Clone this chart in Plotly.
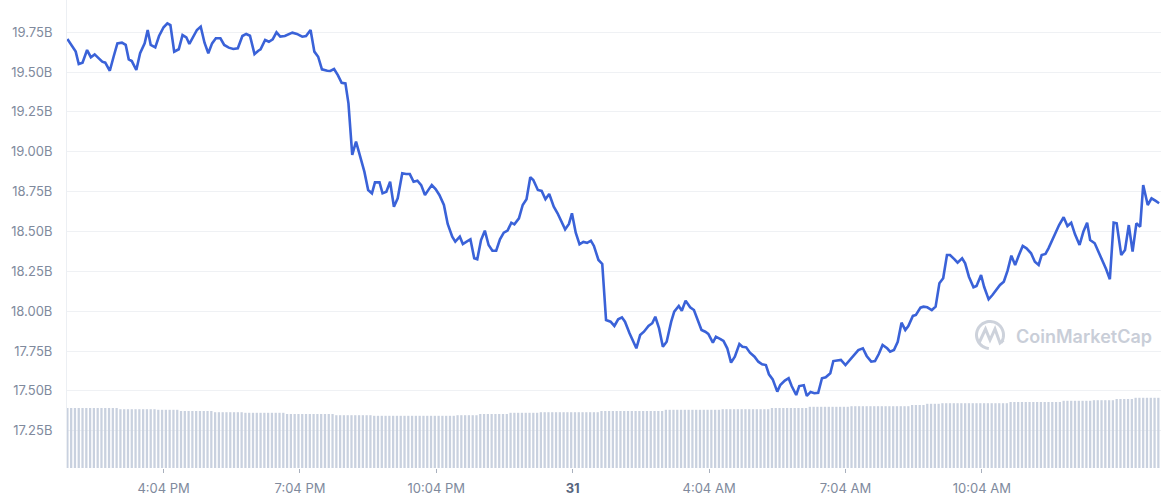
import plotly.graph_objects as go
import pandas as pd
import numpy as np

# ---------------- data ----------------
start_time = "2022-05-30 13:57"

# minutes after start_time for each market-cap sample
minutes = [0, 8, 11, 15, 20, 26, 31, 36, 41, 46, 50, 56, 61, 66, 72, 77, 81, 85, 91, 96,
           102, 106, 110, 116, 121, 127, 132, 136, 141, 147, 152, 157, 161, 167, 171, 176, 181, 186, 191, 196,
           202, 207, 213, 219, 225, 231, 236, 241, 247, 252,
           255, 261, 266, 271, 276, 281, 287, 297, 303, 310, 315, 321, 326, 331, 336, 343, 347, 352, 357, 362,
           367, 371, 376, 381, 387, 392, 397, 402, 406, 412, 416, 421, 426, 431, 436, 442, 447, 452, 457, 462,
           467, 472, 477, 481, 486, 491, 497, 502, 508, 512,
           518, 522, 527, 532, 537, 541, 546, 551, 556, 561, 566, 571, 576, 581, 586, 590, 596, 601, 606, 611,
           615, 621, 626, 631, 636, 642, 647, 652, 657, 662, 666, 671, 676, 681, 686, 691, 695, 701, 706, 711,
           717, 722, 727, 732, 736, 742, 747, 751, 756, 761, 767,
           772, 776, 781, 786, 791, 797, 801, 807, 811, 816, 822, 827, 832, 837, 842, 846, 852, 856, 862, 866,
           871, 876, 881, 887, 891, 896, 901, 907, 912, 917, 922, 926, 931, 937, 941, 947, 952, 956, 962, 966,
           972, 976, 981, 986, 991, 996, 1001, 1007, 1011, 1017, 1021, 1027,
           1031, 1038, 1044, 1050, 1055, 1061, 1066, 1071, 1076, 1082, 1086, 1091, 1096, 1101, 1106, 1110, 1116,
           1120, 1126, 1130, 1135, 1141, 1146, 1151, 1156, 1161, 1165, 1171, 1175, 1181, 1185, 1190, 1196, 1200,
           1206, 1210, 1216, 1221, 1227, 1231, 1236, 1241, 1246, 1251, 1256, 1261, 1266, 1272, 1277,
           1282, 1286, 1291, 1295, 1300, 1305, 1309, 1315, 1320, 1325, 1330, 1336, 1341, 1346, 1350, 1356, 1361,
           1366, 1371, 1376, 1381, 1385, 1391, 1396, 1401, 1406, 1411, 1416, 1420, 1426, 1431, 1436, 1441]

# market cap, billions USD
market_cap_b = [19.707, 19.655, 19.628, 19.550, 19.559, 19.638, 19.593, 19.611, 19.590, 19.565,
                19.559, 19.508, 19.596, 19.680, 19.684, 19.670, 19.580, 19.569, 19.513, 19.618,
                19.680, 19.764, 19.670, 19.655, 19.726, 19.781, 19.806, 19.795, 19.628, 19.643,
                19.732, 19.718, 19.676, 19.726, 19.764, 19.785, 19.684, 19.618, 19.680, 19.712,
                19.712, 19.670, 19.653, 19.645, 19.649, 19.726, 19.739, 19.728, 19.613, 19.634,
                19.643, 19.701, 19.690, 19.705, 19.749, 19.722, 19.726, 19.747, 19.739, 19.722,
                19.726, 19.764, 19.628, 19.596, 19.517, 19.508, 19.507, 19.519, 19.481, 19.433,
                19.429, 19.304, 18.980, 19.063, 18.969, 18.875, 18.760, 18.739, 18.808, 18.808,
                18.739, 18.749, 18.812, 18.655, 18.708, 18.865, 18.860, 18.860, 18.812, 18.818,
                18.791, 18.729, 18.764, 18.791, 18.766, 18.729, 18.666, 18.547, 18.467, 18.436,
                18.467, 18.421, 18.436, 18.451, 18.332, 18.325, 18.446, 18.505, 18.415, 18.379,
                18.379, 18.451, 18.492, 18.505, 18.555, 18.545, 18.582, 18.666, 18.702, 18.840,
                18.823, 18.760, 18.754, 18.702, 18.735, 18.655, 18.614, 18.561, 18.513, 18.547,
                18.614, 18.492, 18.419, 18.434, 18.429, 18.442, 18.409, 18.321, 18.296, 17.944,
                17.934, 17.907, 17.949, 17.961, 17.934, 17.861, 17.802, 17.767, 17.850, 17.871, 17.907,
                17.924, 17.965, 17.892, 17.777, 17.808, 17.934, 17.997, 18.032, 18.003, 18.066,
                18.024, 18.007, 17.949, 17.882, 17.871, 17.857, 17.802, 17.840, 17.825, 17.813,
                17.767, 17.677, 17.714, 17.794, 17.777, 17.773, 17.739, 17.714, 17.683, 17.667,
                17.662, 17.604, 17.572, 17.495, 17.537, 17.564, 17.579, 17.530, 17.474, 17.530,
                17.535, 17.468, 17.493, 17.485, 17.488, 17.579, 17.585, 17.610, 17.687, 17.694,
                17.694, 17.662,
                17.683, 17.725, 17.756, 17.767, 17.719, 17.683, 17.687, 17.731, 17.788, 17.767,
                17.746, 17.756, 17.808, 17.928, 17.882, 17.907, 17.970, 17.976, 18.022, 18.028,
                18.024, 18.007, 18.028, 18.175, 18.206, 18.352, 18.352, 18.325, 18.304, 18.332,
                18.300, 18.216, 18.150, 18.158, 18.227, 18.153, 18.074, 18.101, 18.137, 18.164,
                18.185, 18.254, 18.348, 18.290, 18.352, 18.409, 18.394, 18.363, 18.310,
                18.290, 18.352, 18.359, 18.394, 18.446, 18.509, 18.540, 18.589, 18.534, 18.555,
                18.482, 18.415, 18.498, 18.555, 18.446, 18.426, 18.373, 18.321, 18.264, 18.200,
                18.555, 18.551, 18.352, 18.384, 18.540, 18.373, 18.551, 18.530, 18.791, 18.666,
                18.708, 18.693, 18.677]

# volume bars, one every 5 minutes from start_time (billions, own scale)
volume_b = [1.00, 1.00, 1.00, 1.00, 1.00, 1.00, 1.00, 1.00, 1.00, 1.00, 1.00, 1.00, 1.00, 1.00,
            0.98, 0.98, 0.98, 0.98, 0.98, 0.98, 0.98, 0.98, 0.98, 0.98,
            0.97, 0.97, 0.97, 0.97, 0.97, 0.97,
            0.95, 0.95, 0.95, 0.95, 0.95, 0.95, 0.95, 0.95, 0.95,
            0.93, 0.93, 0.93, 0.93, 0.93, 0.93, 0.93, 0.93,
            0.92, 0.92, 0.92, 0.92, 0.92, 0.92, 0.92, 0.92, 0.92, 0.92, 0.92,
            0.90, 0.90, 0.90, 0.90, 0.90, 0.90, 0.90, 0.90, 0.90, 0.90, 0.90, 0.90, 0.90,
            0.88, 0.88, 0.88, 0.88, 0.88, 0.88, 0.88, 0.88, 0.88, 0.88,
            0.87, 0.87, 0.87, 0.87, 0.87, 0.87, 0.87, 0.87, 0.87, 0.87, 0.87,
            0.87, 0.87, 0.87, 0.87, 0.87, 0.87, 0.87, 0.87, 0.87, 0.87, 0.87,
            0.88, 0.88, 0.88, 0.88, 0.88, 0.88,
            0.90, 0.90, 0.90, 0.90, 0.90, 0.90, 0.90, 0.90,
            0.92, 0.92, 0.92, 0.92, 0.92, 0.92, 0.92, 0.92,
            0.93, 0.93, 0.93, 0.93, 0.93, 0.93, 0.93, 0.93, 0.93, 0.93, 0.93, 0.93, 0.93, 0.93, 0.93, 0.93,
            0.95, 0.95, 0.95, 0.95, 0.95, 0.95, 0.95, 0.95, 0.95, 0.95, 0.95, 0.95, 0.95, 0.95, 0.95, 0.95, 0.95,
            0.97, 0.97, 0.97, 0.97, 0.97, 0.97, 0.97, 0.97, 0.97, 0.97, 0.97, 0.97, 0.97, 0.97, 0.97,
            0.98, 0.98, 0.98, 0.98, 0.98, 0.98, 0.98, 0.98, 0.98, 0.98, 0.98, 0.98, 0.98,
            1.00, 1.00, 1.00, 1.00, 1.00, 1.00, 1.00, 1.00, 1.00, 1.00,
            1.02, 1.02, 1.02, 1.02, 1.02, 1.02, 1.02, 1.02, 1.02, 1.02, 1.02,
            1.03, 1.03, 1.03, 1.03, 1.03, 1.03, 1.03, 1.03, 1.03, 1.03, 1.03, 1.03, 1.03, 1.03, 1.03, 1.03,
            1.05, 1.05, 1.05, 1.05,
            1.07, 1.07, 1.07, 1.07,
            1.08, 1.08, 1.08, 1.08, 1.08, 1.08, 1.08, 1.08, 1.08, 1.08, 1.08, 1.08, 1.08, 1.08, 1.08, 1.08, 1.08, 1.08,
            1.10, 1.10, 1.10, 1.10, 1.10, 1.10, 1.10, 1.10, 1.10, 1.10, 1.10, 1.10, 1.10, 1.10,
            1.12, 1.12, 1.12, 1.12, 1.12, 1.12, 1.12, 1.12,
            1.13, 1.13, 1.13, 1.13, 1.13, 1.13,
            1.15, 1.15, 1.15, 1.15, 1.15,
            1.17, 1.17, 1.17, 1.17, 1.17, 1.17, 1.17]

y_tick_values = [17.25, 17.50, 17.75, 18.00, 18.25, 18.50, 18.75, 19.00, 19.25, 19.50, 19.75]
y_tick_labels = ["17.25B", "17.50B", "17.75B", "18.00B", "18.25B", "18.50B",
                 "18.75B", "19.00B", "19.25B", "19.50B", "19.75B"]
x_tick_times = ["2022-05-30 16:04", "2022-05-30 19:04", "2022-05-30 22:04", "2022-05-31 01:04",
                "2022-05-31 04:04", "2022-05-31 07:04", "2022-05-31 10:04"]
x_tick_labels = ["4:04 PM", "7:04 PM", "10:04 PM", "<b style='color:#58667e'>31</b>",
                 "4:04 AM", "7:04 AM", "10:04 AM"]

# ---------------- figure ----------------
t0 = pd.Timestamp(start_time)
line_x = [t0 + pd.Timedelta(minutes=m) for m in minutes]
vol_x = [t0 + pd.Timedelta(minutes=5 * i) for i in range(len(volume_b))]

W, H = 1161, 500
ML, MR, MT, MB = 67, 0, 0, 32
PW, PH = W - ML - MR, H - MT - MB

fig = go.Figure()
fig.add_trace(go.Bar(x=vol_x, y=volume_b, yaxis="y2",
                     marker=dict(color="#c9d1df", line=dict(width=0)),
                     hoverinfo="skip"))
fig.add_trace(go.Scatter(x=line_x, y=market_cap_b, mode="lines",
                         line=dict(color="#3a62d8", width=2.6), hoverinfo="skip"))

LINE_FONT = "Inter, Roboto, 'Noto Sans', sans-serif"

# watermark logo (decoration)
def px2paper(px, py):
    return (px - ML) / PW, (H - MB - py) / PH

cx, cy, r = 990, 335, 13.5
ang = np.linspace(np.deg2rad(-35), np.deg2rad(-35) + np.deg2rad(300), 60)
arc = [px2paper(cx + r * np.cos(a), cy - r * np.sin(a)) for a in ang]
path = "M " + " L ".join(f"{x:.5f},{y:.5f}" for x, y in arc)
wave_px = [(979, 343), (985.5, 329), (990, 340), (995, 329), (1000, 343), (1003.5, 340)]
wave = [px2paper(x, y) for x, y in wave_px]
wpath = "M " + " L ".join(f"{x:.5f},{y:.5f}" for x, y in wave)

fig.update_layout(
    width=W, height=H,
    margin=dict(l=ML, r=MR, t=MT, b=MB),
    plot_bgcolor="white", paper_bgcolor="white",
    showlegend=False, bargap=0.4,
    font=dict(family=LINE_FONT, size=13, color="#808a9d"),
    xaxis=dict(type="date",
               range=[t0 - pd.Timedelta(minutes=0.5), t0 + pd.Timedelta(minutes=1443.5)],
               tickvals=[pd.Timestamp(t) for t in x_tick_times], ticktext=x_tick_labels,
               showgrid=False, zeroline=False, showline=False,
               ticks="outside", ticklen=4, tickwidth=1, tickcolor="#a9b0bd",
               ticklabelstandoff=4,
               tickfont=dict(size=13, color="#808a9d", family=LINE_FONT)),
    yaxis=dict(range=[17.016, 19.952], tickvals=y_tick_values, ticktext=y_tick_labels,
               showgrid=True, gridcolor="#eff1f4", gridwidth=1, zeroline=False,
               showline=True, linecolor="#eceff3", linewidth=1,
               ticks="", ticklabelstandoff=11,
               tickfont=dict(size=13, color="#808a9d", family=LINE_FONT)),
    yaxis2=dict(overlaying="y", range=[0, 7.8], visible=False),
    shapes=[
        dict(type="path", xref="paper", yref="paper", path=path,
             line=dict(color="#cdd2db", width=3)),
        dict(type="path", xref="paper", yref="paper", path=wpath,
             line=dict(color="#cdd2db", width=3)),
    ],
    annotations=[dict(text="CoinMarketCap", xref="paper", yref="paper",
                      x=px2paper(1014, 336)[0], y=px2paper(1014, 336)[1],
                      xanchor="left", yanchor="middle", showarrow=False,
                      font=dict(size=18, color="#c9ced8", family=LINE_FONT, weight=600))],
)

fig.write_html("out.html")
